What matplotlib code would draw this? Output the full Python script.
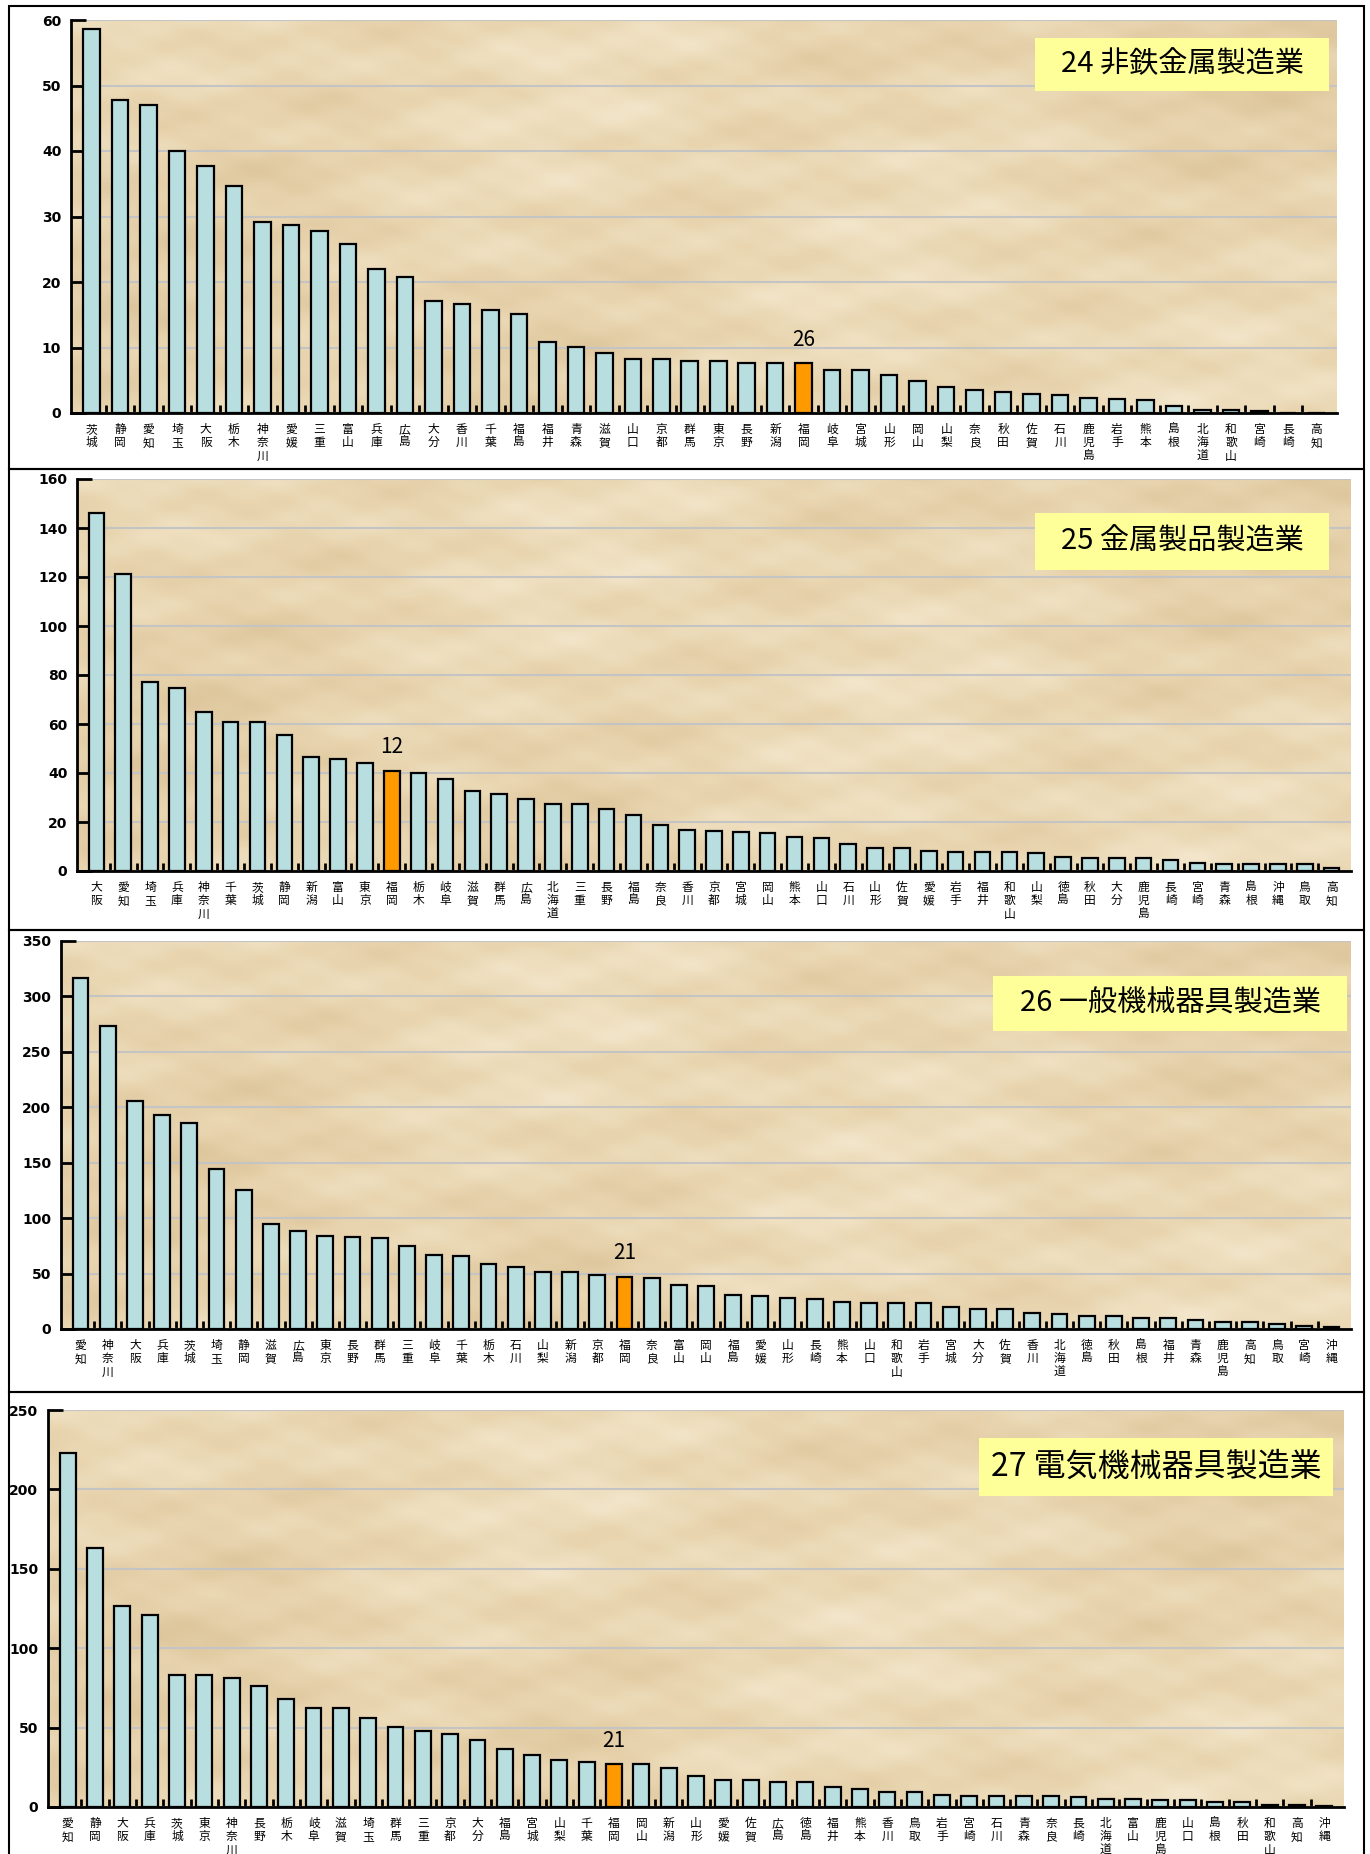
import numpy as np
import matplotlib
matplotlib.use('Agg')
import matplotlib.pyplot as plt
from matplotlib.patches import Rectangle
from matplotlib.colors import LinearSegmentedColormap

plt.rcParams['font.family'] = ['Noto Sans CJK JP', 'DejaVu Sans']

# 24 非鉄金属製造業
p24_names = ['茨城', '静岡', '愛知', '埼玉', '大阪', '栃木', '神奈川', '愛媛', '三重', '富山',
             '兵庫', '広島', '大分', '香川', '千葉', '福島', '福井', '青森', '滋賀', '山口',
             '京都', '群馬', '東京', '長野', '新潟', '福岡', '岐阜', '宮城', '山形', '岡山',
             '山梨', '奈良', '秋田', '佐賀', '石川', '鹿児島', '岩手', '熊本', '島根', '北海道',
             '和歌山', '宮崎', '長崎', '高知']
p24_vals = [58.6, 47.8, 47.0, 40.0, 37.7, 34.7, 29.2, 28.7, 27.8, 25.8,
            22.0, 20.8, 17.1, 16.6, 15.7, 15.1, 10.8, 10.1, 9.2, 8.3,
            8.3, 7.9, 7.9, 7.6, 7.6, 7.6, 6.5, 6.5, 5.8, 4.9,
            3.9, 3.5, 3.2, 2.9, 2.7, 2.25, 2.2, 1.95, 1.0, 0.45,
            0.45, 0.25, 0.05, 0.05]

# 25 金属製品製造業
p25_names = ['大阪', '愛知', '埼玉', '兵庫', '神奈川', '千葉', '茨城', '静岡', '新潟', '富山',
             '東京', '福岡', '栃木', '岐阜', '滋賀', '群馬', '広島', '北海道', '三重', '長野',
             '福島', '奈良', '香川', '京都', '宮城', '岡山', '熊本', '山口', '石川', '山形',
             '佐賀', '愛媛', '岩手', '福井', '和歌山', '山梨', '徳島', '秋田', '大分', '鹿児島',
             '長崎', '宮崎', '青森', '島根', '沖縄', '鳥取', '高知']
p25_vals = [146, 121.4, 77, 74.7, 65, 60.7, 60.7, 55.4, 46.7, 45.8,
            43.9, 41, 40, 37.6, 32.8, 31.3, 29.4, 27.5, 27.5, 25.5,
            22.7, 18.8, 16.9, 16.4, 15.9, 15.4, 14, 13.5, 11.1, 9.2,
            9.2, 8.2, 7.7, 7.7, 7.7, 7.2, 5.8, 5.3, 5.3, 5.3,
            4.3, 3.4, 2.9, 2.9, 2.9, 2.9, 1.4]

# 26 一般機械器具製造業
p26_names = ['愛知', '神奈川', '大阪', '兵庫', '茨城', '埼玉', '静岡', '滋賀', '広島', '東京',
             '長野', '群馬', '三重', '岐阜', '千葉', '栃木', '石川', '山梨', '新潟', '京都',
             '福岡', '奈良', '富山', '岡山', '福島', '愛媛', '山形', '長崎', '熊本', '山口',
             '和歌山', '岩手', '宮城', '大分', '佐賀', '香川', '北海道', '徳島', '秋田', '島根',
             '福井', '青森', '鹿児島', '高知', '鳥取', '宮崎', '沖縄']
p26_vals = [317, 273, 206, 193, 186, 144, 125, 95, 88.6, 84.3,
            83, 82, 74.7, 67, 66, 58.7, 55.5, 51, 51, 49,
            47, 46, 39.5, 38.4, 31, 30, 27.7, 26.7, 24.5, 23.5,
            23.5, 23.5, 20, 18, 18, 14, 13.5, 11.7, 11.7, 10,
            10, 8.5, 6.5, 6, 4.5, 3, 2]

# 27 電気機械器具製造業
p27_names = ['愛知', '静岡', '大阪', '兵庫', '茨城', '東京', '神奈川', '長野', '栃木', '岐阜',
             '滋賀', '埼玉', '群馬', '三重', '京都', '大分', '福島', '宮城', '山梨', '千葉',
             '福岡', '岡山', '新潟', '山形', '愛媛', '佐賀', '広島', '徳島', '福井', '熊本',
             '香川', '鳥取', '岩手', '宮崎', '石川', '青森', '奈良', '長崎', '北海道', '富山',
             '鹿児島', '山口', '島根', '秋田', '和歌山', '高知', '沖縄']
p27_vals = [223, 162.8, 126.5, 120.6, 83.4, 83.4, 81.3, 76, 67.7, 62.5,
            62.5, 55.8, 50.6, 47.6, 46.1, 42.4, 36.5, 32.7, 29.8, 28.3,
            26.8, 26.8, 24.6, 19.3, 17.1, 17.1, 15.6, 15.6, 12.6, 11.2,
            9.5, 9.3, 7.4, 6.7, 6.7, 6.7, 6.7, 6, 5.2, 5.2,
            4.5, 4.5, 3, 3, 1.5, 1.5, 0.7]

W, H = 1370, 1854
fig = plt.figure(figsize=(W / 100, H / 100), dpi=100)

paper = LinearSegmentedColormap.from_list('paper', ['#DDC59B', '#E9D6B1', '#F3E6CB'])


def px_rect(l, t, r, b):
    return [l / W, 1 - b / H, (r - l) / W, (b - t) / H]


def panel(ax_box, names, vals, ymax, ystep, title, title_box, title_size):
    ax = fig.add_axes(px_rect(*ax_box))
    n = len(names)
    x = np.arange(n)
    x0, x1 = -0.72, n - 1 + 0.72

    # parchment-like background (smooth, deterministic pattern)
    yy, xx = np.mgrid[0:1:200j, 0:1:700j]
    tex = (np.sin(xx * 17.3 + yy * 5.1) * 0.25
           + np.sin(xx * 41.7 - yy * 23.9 + 1.3) * 0.2
           + np.cos(xx * 9.1 + yy * 37.3) * 0.25
           + np.sin(xx * 83.1 + yy * 61.7 + 0.7) * 0.12
           + np.cos(xx * 127.3 - yy * 89.9) * 0.08
           + np.sin(xx * 5.3 - yy * 3.1) * 0.3)
    ax.imshow(tex, cmap=paper, extent=(x0, x1, 0, ymax), aspect='auto', zorder=0)

    colors = ['#FF9900' if nm == '福岡' else '#B9DEDF' for nm in names]
    ax.bar(x, vals, width=0.58, color=colors, edgecolor='black', linewidth=1.6, zorder=2)

    ax.set_xlim(x0, x1)
    ax.set_ylim(0, ymax)
    ax.set_yticks(np.arange(0, ymax + 1, ystep))
    ax.yaxis.grid(True, color='#C4C4C4', linewidth=1.5)
    ax.set_axisbelow(True)

    ax.set_xticks(x)
    ax.set_xticklabels(['\n'.join(nm) for nm in names], fontsize=8.5, linespacing=1.05)
    ax.set_xticks(x[:-1] + 0.5, minor=True)
    ax.tick_params(axis='x', which='major', length=0, pad=7)
    ax.tick_params(axis='x', which='minor', direction='in', length=6, width=2)
    ax.tick_params(axis='y', direction='in', length=11, width=2, pad=7)
    for lbl in ax.get_yticklabels():
        lbl.set_fontfamily('DejaVu Sans')
        lbl.set_fontweight('heavy')
        lbl.set_fontsize(10)

    for s in ['top', 'right']:
        ax.spines[s].set_visible(False)
    for s in ['left', 'bottom']:
        ax.spines[s].set_linewidth(2)
        ax.spines[s].set_zorder(3)

    i = names.index('福岡')
    ax.annotate(str(i + 1), (i, vals[i]), xytext=(0, 9), textcoords='offset points',
                ha='center', va='bottom', fontsize=15, zorder=4)

    l, t, r, b = title_box
    fig.patches.append(Rectangle((l / W, 1 - b / H), (r - l) / W, (b - t) / H,
                                 transform=fig.transFigure, facecolor='#FFFF99',
                                 edgecolor='none', zorder=5))
    fig.text((l + r) / 2 / W, 1 - (t + b) / 2 / H, title, ha='center', va='center',
             fontsize=title_size, zorder=6)
    return ax


panel((71, 20, 1337, 413), p24_names, p24_vals, 60, 10,
      '24 非鉄金属製造業', (1035, 38, 1329, 91), 21)
panel((77, 479, 1351, 871), p25_names, p25_vals, 160, 20,
      '25 金属製品製造業', (1035, 513, 1329, 570), 21)
panel((61, 941, 1351, 1329), p26_names, p26_vals, 350, 50,
      '26 一般機械器具製造業', (993, 976, 1347, 1031), 21)
panel((48, 1410, 1344, 1807), p27_names, p27_vals, 250, 50,
      '27 電気機械器具製造業', (979, 1438, 1333, 1496), 23)

# panel frames
for top, bot in [(6, 469), (469, 930), (930, 1392), (1392, 1860)]:
    fig.patches.append(Rectangle((9 / W, 1 - bot / H), (1364 - 9) / W, (bot - top) / H,
                                 transform=fig.transFigure, facecolor='none',
                                 edgecolor='black', linewidth=1.5, zorder=1))

fig.savefig('out.png', dpi=100)
